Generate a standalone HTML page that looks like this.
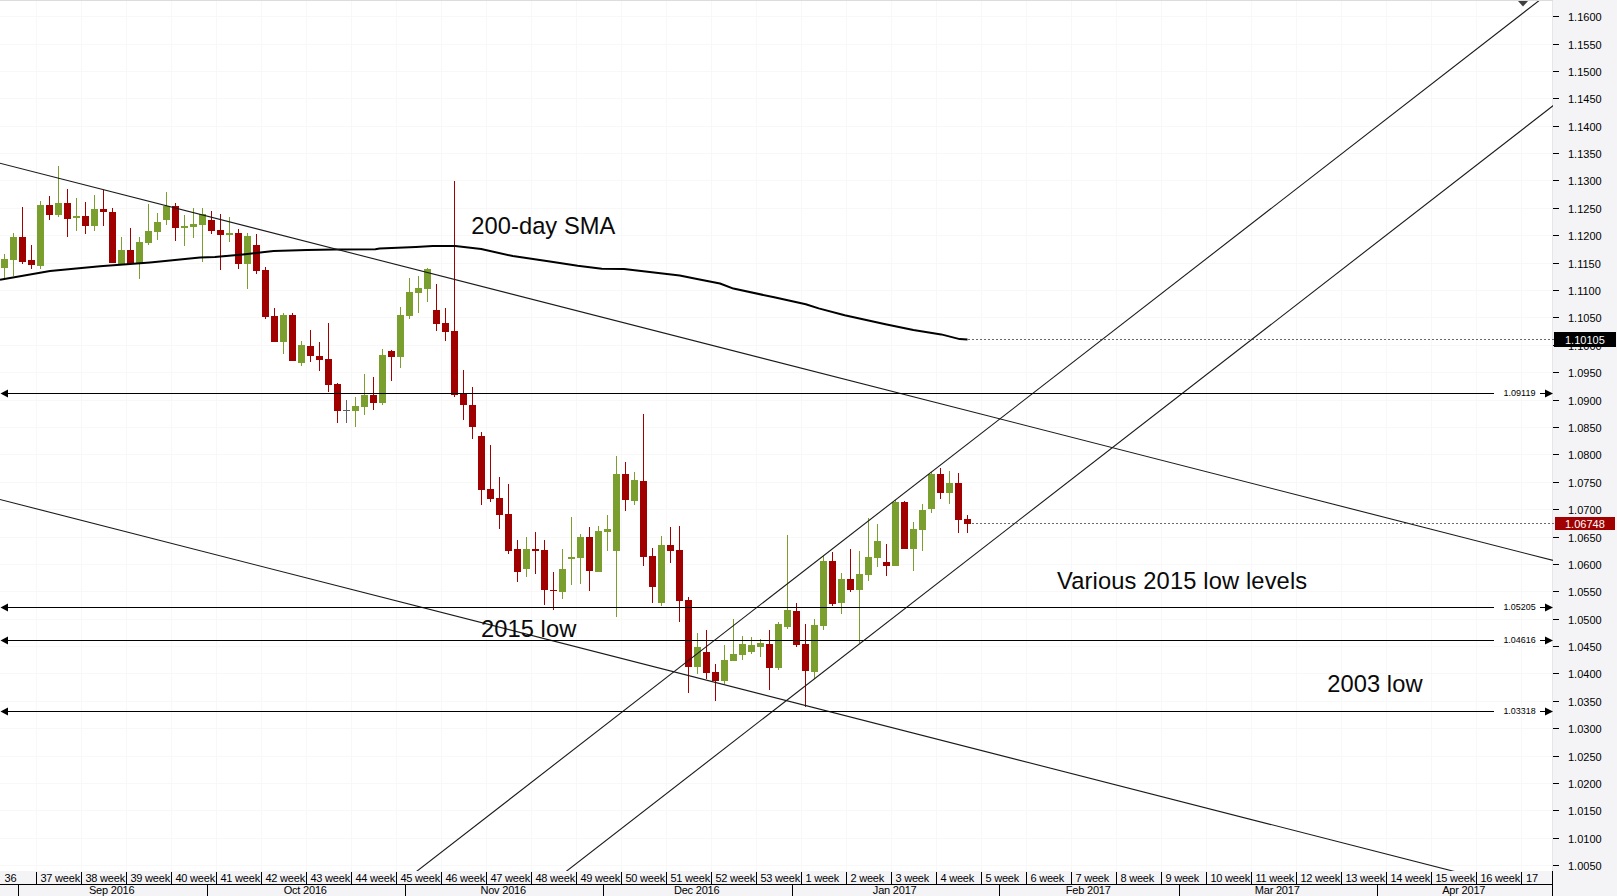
<!DOCTYPE html>
<html lang="en"><head><meta charset="utf-8"><title>EUR/USD daily chart</title>
<style>html,body{margin:0;padding:0;background:#fff;}body{width:1617px;height:896px;overflow:hidden;}svg{display:block;}text{font-family:"Liberation Sans",sans-serif;}</style>
</head><body>
<svg width="1617" height="896" viewBox="0 0 1617 896">
<rect x="0" y="0" width="1617" height="896" fill="#fff"/>
<g shape-rendering="crispEdges">
<rect x="0" y="0" width="1617" height="1" fill="#dcdcdc"/>
<rect x="1553" y="0" width="64" height="896" fill="#f4f4f7"/>
<rect x="1552" y="1" width="1" height="870" fill="#e6e6e8"/>
<rect x="0" y="871" width="1553" height="25" fill="#f4f4f7"/>
</g>
<g shape-rendering="crispEdges" fill="#f8f8f8">
<rect x="36" y="1" width="1" height="870"/>
<rect x="81" y="1" width="1" height="870"/>
<rect x="126" y="1" width="1" height="870"/>
<rect x="171" y="1" width="1" height="870"/>
<rect x="216" y="1" width="1" height="870"/>
<rect x="261" y="1" width="1" height="870"/>
<rect x="306" y="1" width="1" height="870"/>
<rect x="351" y="1" width="1" height="870"/>
<rect x="396" y="1" width="1" height="870"/>
<rect x="441" y="1" width="1" height="870"/>
<rect x="486" y="1" width="1" height="870"/>
<rect x="531" y="1" width="1" height="870"/>
<rect x="576" y="1" width="1" height="870"/>
<rect x="621" y="1" width="1" height="870"/>
<rect x="666" y="1" width="1" height="870"/>
<rect x="711" y="1" width="1" height="870"/>
<rect x="756" y="1" width="1" height="870"/>
<rect x="801" y="1" width="1" height="870"/>
<rect x="846" y="1" width="1" height="870"/>
<rect x="891" y="1" width="1" height="870"/>
<rect x="936" y="1" width="1" height="870"/>
<rect x="981" y="1" width="1" height="870"/>
<rect x="1026" y="1" width="1" height="870"/>
<rect x="1071" y="1" width="1" height="870"/>
<rect x="1116" y="1" width="1" height="870"/>
<rect x="1161" y="1" width="1" height="870"/>
<rect x="1206" y="1" width="1" height="870"/>
<rect x="1251" y="1" width="1" height="870"/>
<rect x="1296" y="1" width="1" height="870"/>
<rect x="1341" y="1" width="1" height="870"/>
<rect x="1386" y="1" width="1" height="870"/>
<rect x="1431" y="1" width="1" height="870"/>
<rect x="1476" y="1" width="1" height="870"/>
<rect x="1521" y="1" width="1" height="870"/>
<rect x="0" y="16" width="1552" height="1"/>
<rect x="0" y="44" width="1552" height="1"/>
<rect x="0" y="71" width="1552" height="1"/>
<rect x="0" y="98" width="1552" height="1"/>
<rect x="0" y="126" width="1552" height="1"/>
<rect x="0" y="153" width="1552" height="1"/>
<rect x="0" y="180" width="1552" height="1"/>
<rect x="0" y="208" width="1552" height="1"/>
<rect x="0" y="235" width="1552" height="1"/>
<rect x="0" y="263" width="1552" height="1"/>
<rect x="0" y="290" width="1552" height="1"/>
<rect x="0" y="317" width="1552" height="1"/>
<rect x="0" y="345" width="1552" height="1"/>
<rect x="0" y="372" width="1552" height="1"/>
<rect x="0" y="400" width="1552" height="1"/>
<rect x="0" y="427" width="1552" height="1"/>
<rect x="0" y="454" width="1552" height="1"/>
<rect x="0" y="482" width="1552" height="1"/>
<rect x="0" y="509" width="1552" height="1"/>
<rect x="0" y="537" width="1552" height="1"/>
<rect x="0" y="564" width="1552" height="1"/>
<rect x="0" y="591" width="1552" height="1"/>
<rect x="0" y="619" width="1552" height="1"/>
<rect x="0" y="646" width="1552" height="1"/>
<rect x="0" y="673" width="1552" height="1"/>
<rect x="0" y="701" width="1552" height="1"/>
<rect x="0" y="728" width="1552" height="1"/>
<rect x="0" y="756" width="1552" height="1"/>
<rect x="0" y="783" width="1552" height="1"/>
<rect x="0" y="810" width="1552" height="1"/>
<rect x="0" y="838" width="1552" height="1"/>
<rect x="0" y="865" width="1552" height="1"/>
</g>
<g shape-rendering="crispEdges">
<rect x="4" y="254" width="1" height="24" fill="#7a9f2f"/>
<rect x="1" y="259" width="7" height="9" fill="#7a9f2f"/>
<rect x="13" y="233" width="1" height="43" fill="#7a9f2f"/>
<rect x="10" y="237" width="7" height="23" fill="#7a9f2f"/>
<rect x="22" y="207" width="1" height="57" fill="#a00000"/>
<rect x="19" y="237" width="7" height="25" fill="#a00000"/>
<rect x="31" y="245" width="1" height="24" fill="#a00000"/>
<rect x="28" y="260" width="7" height="5" fill="#a00000"/>
<rect x="40" y="201" width="1" height="68" fill="#7a9f2f"/>
<rect x="37" y="205" width="7" height="61" fill="#7a9f2f"/>
<rect x="49" y="196" width="1" height="24" fill="#a00000"/>
<rect x="46" y="205" width="7" height="10" fill="#a00000"/>
<rect x="58" y="166" width="1" height="51" fill="#7a9f2f"/>
<rect x="55" y="203" width="7" height="12" fill="#7a9f2f"/>
<rect x="67" y="189" width="1" height="48" fill="#a00000"/>
<rect x="64" y="203" width="7" height="16" fill="#a00000"/>
<rect x="76" y="198" width="1" height="33" fill="#7a9f2f"/>
<rect x="73" y="216" width="7" height="2" fill="#7a9f2f"/>
<rect x="85" y="202" width="1" height="32" fill="#a00000"/>
<rect x="82" y="216" width="7" height="10" fill="#a00000"/>
<rect x="94" y="195" width="1" height="36" fill="#7a9f2f"/>
<rect x="91" y="209" width="7" height="17" fill="#7a9f2f"/>
<rect x="103" y="190" width="1" height="36" fill="#a00000"/>
<rect x="100" y="209" width="7" height="3" fill="#a00000"/>
<rect x="112" y="208" width="1" height="55" fill="#a00000"/>
<rect x="109" y="212" width="7" height="51" fill="#a00000"/>
<rect x="121" y="237" width="1" height="27" fill="#7a9f2f"/>
<rect x="118" y="250" width="7" height="14" fill="#7a9f2f"/>
<rect x="130" y="228" width="1" height="36" fill="#a00000"/>
<rect x="127" y="250" width="7" height="14" fill="#a00000"/>
<rect x="139" y="237" width="1" height="42" fill="#7a9f2f"/>
<rect x="136" y="242" width="7" height="22" fill="#7a9f2f"/>
<rect x="148" y="204" width="1" height="41" fill="#7a9f2f"/>
<rect x="145" y="231" width="7" height="12" fill="#7a9f2f"/>
<rect x="157" y="213" width="1" height="27" fill="#7a9f2f"/>
<rect x="154" y="222" width="7" height="10" fill="#7a9f2f"/>
<rect x="166" y="192" width="1" height="33" fill="#7a9f2f"/>
<rect x="163" y="206" width="7" height="14" fill="#7a9f2f"/>
<rect x="175" y="203" width="1" height="38" fill="#a00000"/>
<rect x="172" y="206" width="7" height="22" fill="#a00000"/>
<rect x="184" y="215" width="1" height="31" fill="#7a9f2f"/>
<rect x="181" y="226" width="7" height="2" fill="#7a9f2f"/>
<rect x="193" y="208" width="1" height="30" fill="#7a9f2f"/>
<rect x="190" y="224" width="7" height="3" fill="#7a9f2f"/>
<rect x="202" y="208" width="1" height="54" fill="#7a9f2f"/>
<rect x="199" y="214" width="7" height="11" fill="#7a9f2f"/>
<rect x="211" y="211" width="1" height="23" fill="#a00000"/>
<rect x="208" y="220" width="7" height="11" fill="#a00000"/>
<rect x="220" y="214" width="1" height="56" fill="#a00000"/>
<rect x="217" y="230" width="7" height="5" fill="#a00000"/>
<rect x="229" y="217" width="1" height="25" fill="#7a9f2f"/>
<rect x="226" y="233" width="7" height="2" fill="#7a9f2f"/>
<rect x="238" y="229" width="1" height="40" fill="#a00000"/>
<rect x="235" y="233" width="7" height="31" fill="#a00000"/>
<rect x="247" y="233" width="1" height="56" fill="#7a9f2f"/>
<rect x="244" y="236" width="7" height="28" fill="#7a9f2f"/>
<rect x="256" y="234" width="1" height="40" fill="#a00000"/>
<rect x="253" y="245" width="7" height="26" fill="#a00000"/>
<rect x="265" y="267" width="1" height="52" fill="#a00000"/>
<rect x="262" y="270" width="7" height="47" fill="#a00000"/>
<rect x="274" y="308" width="1" height="34" fill="#a00000"/>
<rect x="271" y="316" width="7" height="26" fill="#a00000"/>
<rect x="283" y="313" width="1" height="41" fill="#7a9f2f"/>
<rect x="280" y="315" width="7" height="27" fill="#7a9f2f"/>
<rect x="292" y="313" width="1" height="48" fill="#a00000"/>
<rect x="289" y="315" width="7" height="46" fill="#a00000"/>
<rect x="301" y="341" width="1" height="25" fill="#7a9f2f"/>
<rect x="298" y="345" width="7" height="18" fill="#7a9f2f"/>
<rect x="310" y="330" width="1" height="32" fill="#a00000"/>
<rect x="307" y="346" width="7" height="10" fill="#a00000"/>
<rect x="319" y="342" width="1" height="29" fill="#a00000"/>
<rect x="316" y="356" width="7" height="4" fill="#a00000"/>
<rect x="328" y="323" width="1" height="69" fill="#a00000"/>
<rect x="325" y="359" width="7" height="26" fill="#a00000"/>
<rect x="337" y="383" width="1" height="40" fill="#a00000"/>
<rect x="334" y="384" width="7" height="27" fill="#a00000"/>
<rect x="346" y="400" width="1" height="23" fill="#606060"/>
<rect x="343" y="410" width="7" height="1" fill="#606060"/>
<rect x="355" y="397" width="1" height="30" fill="#7a9f2f"/>
<rect x="352" y="406" width="7" height="5" fill="#7a9f2f"/>
<rect x="364" y="374" width="1" height="41" fill="#7a9f2f"/>
<rect x="361" y="395" width="7" height="12" fill="#7a9f2f"/>
<rect x="373" y="377" width="1" height="33" fill="#a00000"/>
<rect x="370" y="395" width="7" height="8" fill="#a00000"/>
<rect x="382" y="349" width="1" height="56" fill="#7a9f2f"/>
<rect x="379" y="355" width="7" height="48" fill="#7a9f2f"/>
<rect x="391" y="350" width="1" height="31" fill="#a00000"/>
<rect x="388" y="351" width="7" height="6" fill="#a00000"/>
<rect x="400" y="307" width="1" height="61" fill="#7a9f2f"/>
<rect x="397" y="315" width="7" height="42" fill="#7a9f2f"/>
<rect x="409" y="278" width="1" height="41" fill="#7a9f2f"/>
<rect x="406" y="292" width="7" height="24" fill="#7a9f2f"/>
<rect x="418" y="276" width="1" height="37" fill="#7a9f2f"/>
<rect x="415" y="288" width="7" height="5" fill="#7a9f2f"/>
<rect x="427" y="268" width="1" height="34" fill="#7a9f2f"/>
<rect x="424" y="269" width="7" height="20" fill="#7a9f2f"/>
<rect x="436" y="284" width="1" height="47" fill="#a00000"/>
<rect x="433" y="310" width="7" height="14" fill="#a00000"/>
<rect x="445" y="308" width="1" height="33" fill="#a00000"/>
<rect x="442" y="323" width="7" height="9" fill="#a00000"/>
<rect x="454" y="181" width="1" height="216" fill="#a00000"/>
<rect x="451" y="331" width="7" height="64" fill="#a00000"/>
<rect x="463" y="370" width="1" height="50" fill="#a00000"/>
<rect x="460" y="394" width="7" height="11" fill="#a00000"/>
<rect x="472" y="387" width="1" height="52" fill="#a00000"/>
<rect x="469" y="405" width="7" height="22" fill="#a00000"/>
<rect x="481" y="432" width="1" height="73" fill="#a00000"/>
<rect x="478" y="436" width="7" height="54" fill="#a00000"/>
<rect x="490" y="445" width="1" height="57" fill="#a00000"/>
<rect x="487" y="489" width="7" height="10" fill="#a00000"/>
<rect x="499" y="477" width="1" height="52" fill="#a00000"/>
<rect x="496" y="498" width="7" height="17" fill="#a00000"/>
<rect x="508" y="484" width="1" height="70" fill="#a00000"/>
<rect x="505" y="514" width="7" height="37" fill="#a00000"/>
<rect x="517" y="540" width="1" height="42" fill="#a00000"/>
<rect x="514" y="549" width="7" height="23" fill="#a00000"/>
<rect x="526" y="537" width="1" height="40" fill="#7a9f2f"/>
<rect x="523" y="549" width="7" height="20" fill="#7a9f2f"/>
<rect x="535" y="532" width="1" height="42" fill="#a00000"/>
<rect x="532" y="549" width="7" height="2" fill="#a00000"/>
<rect x="544" y="540" width="1" height="65" fill="#a00000"/>
<rect x="541" y="550" width="7" height="40" fill="#a00000"/>
<rect x="553" y="572" width="1" height="38" fill="#a00000"/>
<rect x="550" y="590" width="7" height="1" fill="#a00000"/>
<rect x="562" y="549" width="1" height="50" fill="#7a9f2f"/>
<rect x="559" y="569" width="7" height="23" fill="#7a9f2f"/>
<rect x="571" y="517" width="1" height="68" fill="#7a9f2f"/>
<rect x="568" y="557" width="7" height="2" fill="#7a9f2f"/>
<rect x="580" y="534" width="1" height="50" fill="#7a9f2f"/>
<rect x="577" y="537" width="7" height="21" fill="#7a9f2f"/>
<rect x="589" y="527" width="1" height="64" fill="#a00000"/>
<rect x="586" y="537" width="7" height="34" fill="#a00000"/>
<rect x="598" y="526" width="1" height="46" fill="#7a9f2f"/>
<rect x="595" y="531" width="7" height="41" fill="#7a9f2f"/>
<rect x="607" y="515" width="1" height="36" fill="#7a9f2f"/>
<rect x="604" y="529" width="7" height="3" fill="#7a9f2f"/>
<rect x="616" y="456" width="1" height="161" fill="#7a9f2f"/>
<rect x="613" y="474" width="7" height="77" fill="#7a9f2f"/>
<rect x="625" y="462" width="1" height="49" fill="#a00000"/>
<rect x="622" y="474" width="7" height="26" fill="#a00000"/>
<rect x="634" y="472" width="1" height="33" fill="#7a9f2f"/>
<rect x="631" y="480" width="7" height="21" fill="#7a9f2f"/>
<rect x="643" y="414" width="1" height="152" fill="#a00000"/>
<rect x="640" y="481" width="7" height="76" fill="#a00000"/>
<rect x="652" y="548" width="1" height="55" fill="#a00000"/>
<rect x="649" y="556" width="7" height="31" fill="#a00000"/>
<rect x="661" y="536" width="1" height="70" fill="#7a9f2f"/>
<rect x="658" y="545" width="7" height="58" fill="#7a9f2f"/>
<rect x="670" y="527" width="1" height="36" fill="#a00000"/>
<rect x="667" y="545" width="7" height="6" fill="#a00000"/>
<rect x="679" y="526" width="1" height="96" fill="#a00000"/>
<rect x="676" y="550" width="7" height="51" fill="#a00000"/>
<rect x="688" y="597" width="1" height="96" fill="#a00000"/>
<rect x="685" y="600" width="7" height="67" fill="#a00000"/>
<rect x="697" y="633" width="1" height="41" fill="#7a9f2f"/>
<rect x="694" y="647" width="7" height="20" fill="#7a9f2f"/>
<rect x="706" y="630" width="1" height="49" fill="#a00000"/>
<rect x="703" y="652" width="7" height="21" fill="#a00000"/>
<rect x="715" y="664" width="1" height="37" fill="#a00000"/>
<rect x="712" y="672" width="7" height="9" fill="#a00000"/>
<rect x="724" y="645" width="1" height="39" fill="#7a9f2f"/>
<rect x="721" y="660" width="7" height="21" fill="#7a9f2f"/>
<rect x="733" y="619" width="1" height="42" fill="#7a9f2f"/>
<rect x="730" y="654" width="7" height="7" fill="#7a9f2f"/>
<rect x="742" y="636" width="1" height="24" fill="#7a9f2f"/>
<rect x="739" y="644" width="7" height="11" fill="#7a9f2f"/>
<rect x="751" y="637" width="1" height="17" fill="#7a9f2f"/>
<rect x="748" y="645" width="7" height="7" fill="#7a9f2f"/>
<rect x="760" y="639" width="1" height="18" fill="#7a9f2f"/>
<rect x="757" y="643" width="7" height="4" fill="#7a9f2f"/>
<rect x="769" y="630" width="1" height="60" fill="#a00000"/>
<rect x="766" y="644" width="7" height="24" fill="#a00000"/>
<rect x="778" y="622" width="1" height="48" fill="#7a9f2f"/>
<rect x="775" y="624" width="7" height="44" fill="#7a9f2f"/>
<rect x="787" y="535" width="1" height="94" fill="#7a9f2f"/>
<rect x="784" y="610" width="7" height="17" fill="#7a9f2f"/>
<rect x="796" y="603" width="1" height="44" fill="#a00000"/>
<rect x="793" y="611" width="7" height="34" fill="#a00000"/>
<rect x="805" y="624" width="1" height="83" fill="#a00000"/>
<rect x="802" y="644" width="7" height="27" fill="#a00000"/>
<rect x="814" y="619" width="1" height="60" fill="#7a9f2f"/>
<rect x="811" y="625" width="7" height="47" fill="#7a9f2f"/>
<rect x="823" y="556" width="1" height="74" fill="#7a9f2f"/>
<rect x="820" y="561" width="7" height="65" fill="#7a9f2f"/>
<rect x="832" y="552" width="1" height="54" fill="#a00000"/>
<rect x="829" y="561" width="7" height="43" fill="#a00000"/>
<rect x="841" y="573" width="1" height="41" fill="#7a9f2f"/>
<rect x="838" y="579" width="7" height="24" fill="#7a9f2f"/>
<rect x="850" y="549" width="1" height="43" fill="#a00000"/>
<rect x="847" y="579" width="7" height="11" fill="#a00000"/>
<rect x="859" y="551" width="1" height="92" fill="#7a9f2f"/>
<rect x="856" y="574" width="7" height="16" fill="#7a9f2f"/>
<rect x="868" y="518" width="1" height="63" fill="#7a9f2f"/>
<rect x="865" y="557" width="7" height="18" fill="#7a9f2f"/>
<rect x="877" y="524" width="1" height="43" fill="#7a9f2f"/>
<rect x="874" y="541" width="7" height="17" fill="#7a9f2f"/>
<rect x="886" y="544" width="1" height="32" fill="#a00000"/>
<rect x="883" y="562" width="7" height="4" fill="#a00000"/>
<rect x="895" y="500" width="1" height="66" fill="#7a9f2f"/>
<rect x="892" y="502" width="7" height="64" fill="#7a9f2f"/>
<rect x="904" y="501" width="1" height="48" fill="#a00000"/>
<rect x="901" y="502" width="7" height="47" fill="#a00000"/>
<rect x="913" y="522" width="1" height="49" fill="#7a9f2f"/>
<rect x="910" y="529" width="7" height="20" fill="#7a9f2f"/>
<rect x="922" y="504" width="1" height="47" fill="#7a9f2f"/>
<rect x="919" y="510" width="7" height="20" fill="#7a9f2f"/>
<rect x="931" y="472" width="1" height="41" fill="#7a9f2f"/>
<rect x="928" y="474" width="7" height="35" fill="#7a9f2f"/>
<rect x="940" y="468" width="1" height="31" fill="#a00000"/>
<rect x="937" y="474" width="7" height="19" fill="#a00000"/>
<rect x="949" y="471" width="1" height="33" fill="#7a9f2f"/>
<rect x="946" y="483" width="7" height="10" fill="#7a9f2f"/>
<rect x="958" y="473" width="1" height="60" fill="#a00000"/>
<rect x="955" y="483" width="7" height="37" fill="#a00000"/>
<rect x="967" y="515" width="1" height="18" fill="#a00000"/>
<rect x="964" y="519" width="7" height="5" fill="#a00000"/>
</g>
<g stroke="#6a6a6a" stroke-width="1" stroke-dasharray="2 2" shape-rendering="crispEdges">
<line x1="968" y1="339.5" x2="1554" y2="339.5"/>
<line x1="972" y1="523.5" x2="1555" y2="523.5"/>
</g>
<polyline fill="none" stroke="#000" stroke-width="2" stroke-linejoin="round" points="0.0,279.7 50.0,270.9 100.0,266.3 150.0,262.5 200.0,257.6 215.0,256.9 242.9,254.4 262.4,252.3 273.6,250.9 307.0,249.9 335.0,249.5 375.4,249.2 379.6,248.5 397.7,247.8 415.9,247.0 432.6,245.9 455.3,245.9 481.2,249.0 512.8,256.1 549.9,261.6 577.7,265.7 601.8,268.7 624.0,269.1 651.9,272.2 679.7,275.5 698.3,279.3 720.0,283.5 733.4,288.6 774.2,297.3 805.8,304.2 818.7,308.4 844.7,315.3 885.5,324.2 913.4,330.1 941.2,334.4 959.7,339.1 967.5,339.4"/>
<clipPath id="cp"><rect x="0" y="1" width="1553" height="870"/></clipPath>
<g clip-path="url(#cp)" stroke="#1a1a1a" stroke-width="1.1" fill="none">
<line x1="-4" y1="162.18" x2="1560" y2="562.17"/>
<line x1="-4" y1="498.48" x2="1560" y2="898.47"/>
<line x1="405.51" y1="880" x2="1546.30" y2="-5"/>
<line x1="555.10" y1="880" x2="1695.80" y2="-5"/>
</g>
<g shape-rendering="crispEdges" fill="#000">
<rect x="6" y="393" width="1488" height="1"/>
<rect x="1540" y="393" width="6" height="1"/>
<rect x="6" y="607" width="1488" height="1"/>
<rect x="1540" y="607" width="6" height="1"/>
<rect x="6" y="640" width="1488" height="1"/>
<rect x="1540" y="640" width="6" height="1"/>
<rect x="6" y="711" width="1488" height="1"/>
<rect x="1540" y="711" width="6" height="1"/>
</g>
<g fill="#000">
<polygon points="0.5,393.5 8,389.5 8,397.5"/>
<polygon points="1553,393.5 1545,389.5 1545,397.5"/>
<text x="1503.4" y="396.0" font-size="9.7px" textLength="32.2" lengthAdjust="spacingAndGlyphs">1.09119</text>
<polygon points="0.5,607.5 8,603.5 8,611.5"/>
<polygon points="1553,607.5 1545,603.5 1545,611.5"/>
<text x="1503.4" y="610.0" font-size="9.7px" textLength="32.2" lengthAdjust="spacingAndGlyphs">1.05205</text>
<polygon points="0.5,640.5 8,636.5 8,644.5"/>
<polygon points="1553,640.5 1545,636.5 1545,644.5"/>
<text x="1503.4" y="643.0" font-size="9.7px" textLength="32.2" lengthAdjust="spacingAndGlyphs">1.04616</text>
<polygon points="0.5,711.5 8,707.5 8,715.5"/>
<polygon points="1553,711.5 1545,707.5 1545,715.5"/>
<text x="1503.4" y="714.0" font-size="9.7px" textLength="32.2" lengthAdjust="spacingAndGlyphs">1.03318</text>
</g>
<g fill="#0a0a0a" font-size="23.7px">
<text x="471.3" y="233.8" letter-spacing="0.05">200-day SMA</text>
<text x="1057" y="589" letter-spacing="0.14">Various 2015 low levels</text>
<text x="480.9" y="636.8" letter-spacing="0.09">2015 low</text>
<text x="1327.2" y="691.8" letter-spacing="0.07">2003 low</text>
</g>
<polygon points="1518,1 1528,1 1523,6.5" fill="#404040"/>
<g shape-rendering="crispEdges" fill="#000">
<rect x="1553" y="16" width="6" height="1"/>
<rect x="1553" y="44" width="6" height="1"/>
<rect x="1553" y="71" width="6" height="1"/>
<rect x="1553" y="98" width="6" height="1"/>
<rect x="1553" y="126" width="6" height="1"/>
<rect x="1553" y="153" width="6" height="1"/>
<rect x="1553" y="180" width="6" height="1"/>
<rect x="1553" y="208" width="6" height="1"/>
<rect x="1553" y="235" width="6" height="1"/>
<rect x="1553" y="263" width="6" height="1"/>
<rect x="1553" y="290" width="6" height="1"/>
<rect x="1553" y="317" width="6" height="1"/>
<rect x="1553" y="345" width="6" height="1"/>
<rect x="1553" y="372" width="6" height="1"/>
<rect x="1553" y="400" width="6" height="1"/>
<rect x="1553" y="427" width="6" height="1"/>
<rect x="1553" y="454" width="6" height="1"/>
<rect x="1553" y="482" width="6" height="1"/>
<rect x="1553" y="509" width="6" height="1"/>
<rect x="1553" y="537" width="6" height="1"/>
<rect x="1553" y="564" width="6" height="1"/>
<rect x="1553" y="591" width="6" height="1"/>
<rect x="1553" y="619" width="6" height="1"/>
<rect x="1553" y="646" width="6" height="1"/>
<rect x="1553" y="673" width="6" height="1"/>
<rect x="1553" y="701" width="6" height="1"/>
<rect x="1553" y="728" width="6" height="1"/>
<rect x="1553" y="756" width="6" height="1"/>
<rect x="1553" y="783" width="6" height="1"/>
<rect x="1553" y="810" width="6" height="1"/>
<rect x="1553" y="838" width="6" height="1"/>
<rect x="1553" y="865" width="6" height="1"/>
</g>
<g fill="#000" font-size="11px">
<text x="1568" y="21.0">1.1600</text>
<text x="1568" y="49.0">1.1550</text>
<text x="1568" y="76.0">1.1500</text>
<text x="1568" y="103.0">1.1450</text>
<text x="1568" y="131.0">1.1400</text>
<text x="1568" y="158.0">1.1350</text>
<text x="1568" y="185.0">1.1300</text>
<text x="1568" y="213.0">1.1250</text>
<text x="1568" y="240.0">1.1200</text>
<text x="1568" y="268.0">1.1150</text>
<text x="1568" y="295.0">1.1100</text>
<text x="1568" y="322.0">1.1050</text>
<text x="1568" y="350.0">1.1000</text>
<text x="1568" y="377.0">1.0950</text>
<text x="1568" y="405.0">1.0900</text>
<text x="1568" y="432.0">1.0850</text>
<text x="1568" y="459.0">1.0800</text>
<text x="1568" y="487.0">1.0750</text>
<text x="1568" y="514.0">1.0700</text>
<text x="1568" y="542.0">1.0650</text>
<text x="1568" y="569.0">1.0600</text>
<text x="1568" y="596.0">1.0550</text>
<text x="1568" y="624.0">1.0500</text>
<text x="1568" y="651.0">1.0450</text>
<text x="1568" y="678.0">1.0400</text>
<text x="1568" y="706.0">1.0350</text>
<text x="1568" y="733.0">1.0300</text>
<text x="1568" y="761.0">1.0250</text>
<text x="1568" y="788.0">1.0200</text>
<text x="1568" y="815.0">1.0150</text>
<text x="1568" y="843.0">1.0100</text>
<text x="1568" y="870.0">1.0050</text>
</g>
<rect x="1554" y="332" width="62" height="15" fill="#000" shape-rendering="crispEdges"/>
<text x="1565" y="343.6" font-size="11px" fill="#fff">1.10105</text>
<rect x="1555" y="517" width="60" height="13" fill="#a00000" shape-rendering="crispEdges"/>
<text x="1565" y="527.6" font-size="11px" fill="#fff">1.06748</text>
<g shape-rendering="crispEdges" fill="#000">
<rect x="0" y="884" width="1553" height="1"/>
<rect x="1552" y="871" width="1" height="25"/>
<rect x="36" y="872" width="1" height="12"/>
<rect x="81" y="872" width="1" height="12"/>
<rect x="126" y="872" width="1" height="12"/>
<rect x="171" y="872" width="1" height="12"/>
<rect x="216" y="872" width="1" height="12"/>
<rect x="261" y="872" width="1" height="12"/>
<rect x="306" y="872" width="1" height="12"/>
<rect x="351" y="872" width="1" height="12"/>
<rect x="396" y="872" width="1" height="12"/>
<rect x="441" y="872" width="1" height="12"/>
<rect x="486" y="872" width="1" height="12"/>
<rect x="531" y="872" width="1" height="12"/>
<rect x="576" y="872" width="1" height="12"/>
<rect x="621" y="872" width="1" height="12"/>
<rect x="666" y="872" width="1" height="12"/>
<rect x="711" y="872" width="1" height="12"/>
<rect x="756" y="872" width="1" height="12"/>
<rect x="801" y="872" width="1" height="12"/>
<rect x="846" y="872" width="1" height="12"/>
<rect x="891" y="872" width="1" height="12"/>
<rect x="936" y="872" width="1" height="12"/>
<rect x="981" y="872" width="1" height="12"/>
<rect x="1026" y="872" width="1" height="12"/>
<rect x="1071" y="872" width="1" height="12"/>
<rect x="1116" y="872" width="1" height="12"/>
<rect x="1161" y="872" width="1" height="12"/>
<rect x="1206" y="872" width="1" height="12"/>
<rect x="1251" y="872" width="1" height="12"/>
<rect x="1296" y="872" width="1" height="12"/>
<rect x="1341" y="872" width="1" height="12"/>
<rect x="1386" y="872" width="1" height="12"/>
<rect x="1431" y="872" width="1" height="12"/>
<rect x="1476" y="872" width="1" height="12"/>
<rect x="1521" y="872" width="1" height="12"/>
<rect x="18" y="884" width="1" height="12"/>
<rect x="207" y="884" width="1" height="12"/>
<rect x="405" y="884" width="1" height="12"/>
<rect x="603" y="884" width="1" height="12"/>
<rect x="792" y="884" width="1" height="12"/>
<rect x="999" y="884" width="1" height="12"/>
<rect x="1179" y="884" width="1" height="12"/>
<rect x="1377" y="884" width="1" height="12"/>
</g>
<g fill="#000" font-size="11px" letter-spacing="-0.2">
<text x="4.6" y="882">36</text>
<text x="40.4" y="882">37 week</text>
<text x="85.4" y="882">38 week</text>
<text x="130.4" y="882">39 week</text>
<text x="175.4" y="882">40 week</text>
<text x="220.4" y="882">41 week</text>
<text x="265.4" y="882">42 week</text>
<text x="310.4" y="882">43 week</text>
<text x="355.4" y="882">44 week</text>
<text x="400.4" y="882">45 week</text>
<text x="445.4" y="882">46 week</text>
<text x="490.4" y="882">47 week</text>
<text x="535.4" y="882">48 week</text>
<text x="580.4" y="882">49 week</text>
<text x="625.4" y="882">50 week</text>
<text x="670.4" y="882">51 week</text>
<text x="715.4" y="882">52 week</text>
<text x="760.4" y="882">53 week</text>
<text x="805.4" y="882">1 week</text>
<text x="850.4" y="882">2 week</text>
<text x="895.4" y="882">3 week</text>
<text x="940.4" y="882">4 week</text>
<text x="985.4" y="882">5 week</text>
<text x="1030.4" y="882">6 week</text>
<text x="1075.4" y="882">7 week</text>
<text x="1120.4" y="882">8 week</text>
<text x="1165.4" y="882">9 week</text>
<text x="1210.4" y="882">10 week</text>
<text x="1255.4" y="882">11 week</text>
<text x="1300.4" y="882">12 week</text>
<text x="1345.4" y="882">13 week</text>
<text x="1390.4" y="882">14 week</text>
<text x="1435.4" y="882">15 week</text>
<text x="1480.4" y="882">16 week</text>
<text x="1526.0" y="882">17</text>
<text x="111.7" y="894" text-anchor="middle">Sep 2016</text>
<text x="305.2" y="894" text-anchor="middle">Oct 2016</text>
<text x="503.2" y="894" text-anchor="middle">Nov 2016</text>
<text x="696.7" y="894" text-anchor="middle">Dec 2016</text>
<text x="894.7" y="894" text-anchor="middle">Jan 2017</text>
<text x="1088.2" y="894" text-anchor="middle">Feb 2017</text>
<text x="1277.2" y="894" text-anchor="middle">Mar 2017</text>
<text x="1463.7" y="894" text-anchor="middle">Apr 2017</text>
</g>
</svg>
</body></html>
